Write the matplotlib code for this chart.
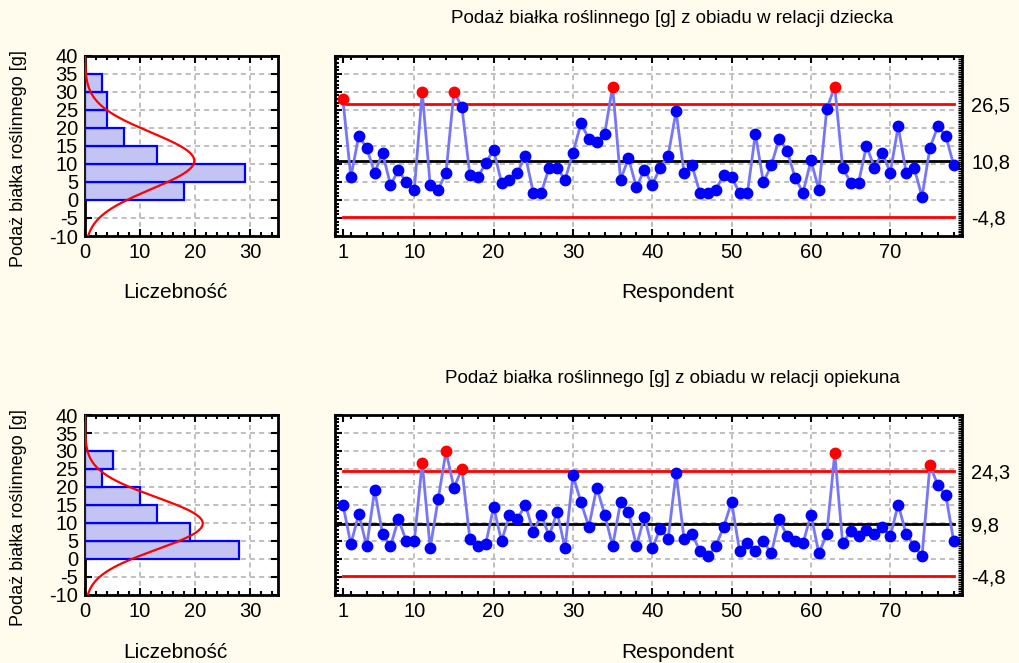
import numpy as np
import matplotlib
matplotlib.use("Agg")
import matplotlib.pyplot as plt
from matplotlib.ticker import MultipleLocator, FixedLocator, NullFormatter

plt.rcParams['font.family'] = ['Liberation Sans', 'DejaVu Sans']
plt.rcParams['axes.unicode_minus'] = False

# --- data ---
child = [27.9, 6.3, 17.8, 14.4, 7.6, 13.0, 4.2, 8.2, 4.9, 2.8,
         30.0, 4.2, 2.8, 7.6, 30.0, 25.8, 7.0, 6.3, 10.2, 13.9,
         4.8, 5.6, 7.6, 12.3, 2.0, 2.0, 9.0, 9.0, 5.6, 13.0,
         21.2, 17.0, 16.2, 18.4, 31.4, 5.6, 11.6, 3.5, 8.4, 4.2,
         9.0, 12.3, 24.6, 7.6, 9.6, 2.0, 2.0, 2.8, 7.0, 6.3,
         2.0, 2.0, 18.4, 4.9, 9.6, 17.0, 13.6, 6.2, 2.0, 11.0,
         2.8, 25.3, 31.4, 9.0, 4.8, 4.8, 15.0, 9.0, 13.0, 7.6,
         20.4, 7.6, 9.0, 0.9, 14.4, 20.4, 17.8, 9.6]
carer = [15.1, 4.1, 12.4, 3.5, 19.1, 6.9, 3.5, 11.0, 4.9, 4.9,
         26.7, 2.9, 16.5, 29.9, 19.7, 25.1, 5.6, 3.5, 4.1, 14.4,
         4.9, 12.3, 11.0, 15.1, 7.5, 12.3, 6.3, 13.1, 2.9, 23.2,
         15.8, 8.9, 19.8, 12.3, 3.5, 15.8, 13.1, 3.5, 11.7, 2.9,
         8.4, 5.6, 23.9, 5.6, 6.9, 2.2, 0.7, 3.5, 8.9, 15.8,
         2.2, 4.3, 2.2, 4.9, 1.5, 11.0, 6.3, 4.9, 4.3, 12.3,
         1.5, 6.9, 29.3, 4.3, 7.7, 6.3, 8.0, 6.9, 8.9, 6.3,
         15.1, 6.9, 3.6, 0.7, 26.0, 20.5, 17.7, 4.9]

bin_lo = [0, 5, 10, 15, 20, 25, 30]
child_counts = [18, 29, 13, 7, 4, 4, 3]
carer_counts = [28, 19, 13, 10, 3, 5, 0]

child_limits = (26.5, 10.8, -4.8)   # UCL, CL, LCL
carer_limits = (24.3, 9.8, -4.8)
child_labels = ['26,5', '10,8', '-4,8']
carer_labels = ['24,3', '9,8', '-4,8']

titles = ['Podaż białka roślinnego [g] z obiadu w relacji dziecka',
          'Podaż białka roślinnego [g] z obiadu w relacji opiekuna']

bg = '#fffcee'
grid_kw = dict(color='#b4b4b4', linestyle=(0, (3, 2.5)), linewidth=1.2)
TICK_FS = 14.5

fig = plt.figure(figsize=(10.2, 6.63), dpi=100, facecolor=bg)


def hist_panel(ax, counts, values):
    ax.set_facecolor('white')
    ax.barh(np.array(bin_lo) + 2.5, counts, height=5, color='#c4c4f4',
            edgecolor='#0000ff', linewidth=1.6, zorder=3)
    v = np.array(values)
    mu, sd = v.mean(), v.std(ddof=1)
    yy = np.linspace(-10, 40, 300)
    xx = len(v) * 5 / (sd * np.sqrt(2 * np.pi)) * np.exp(-0.5 * ((yy - mu) / sd) ** 2)
    ax.plot(xx, yy, color='#ff0000', lw=1.6, zorder=4)
    ax.set_xlim(0, 35)
    ax.set_ylim(-10, 40)
    ax.xaxis.set_major_locator(MultipleLocator(10))
    ax.xaxis.set_minor_locator(MultipleLocator(2))
    ax.yaxis.set_major_locator(MultipleLocator(5))
    ax.grid(True, **grid_kw, zorder=1)
    ax.set_axisbelow(True)
    ax.tick_params(which='both', direction='in', top=True, right=True,
                   labelsize=TICK_FS, width=1.5, pad=5)
    ax.tick_params(which='major', length=5)
    ax.tick_params(which='minor', length=3)
    for s in ax.spines.values():
        s.set_linewidth(2)
    ax.set_ylabel('Podaż białka roślinnego [g]', fontsize=13, va='center')
    ax.yaxis.set_label_coords(-0.345, 0.43)


def control_panel(ax, values, limits, labels):
    ax.set_facecolor('white')
    x = np.arange(1, len(values) + 1)
    v = np.array(values)
    ucl, cl, lcl = limits
    ax.plot(x, v, color='#7676f6', lw=2, zorder=3)
    out = v > ucl
    ax.plot(x[~out], v[~out], 'o', color='#0000ff', ms=7.5, zorder=4)
    ax.plot(x[out], v[out], 'o', color='#ff0000', ms=7.5, zorder=4)
    ax.plot([0, x[-1]], [cl, cl], color='black', lw=2, zorder=2)
    ax.plot([1, x[-1]], [ucl, ucl], color='#ff0000', lw=2, zorder=2)
    ax.plot([1, x[-1]], [lcl, lcl], color='#ff0000', lw=2, zorder=2)
    ax.set_xlim(0, 79)
    ax.set_ylim(-10, 40)
    ax.xaxis.set_major_locator(FixedLocator([1, 10, 20, 30, 40, 50, 60, 70]))
    ax.xaxis.set_minor_locator(MultipleLocator(2))
    ax.yaxis.set_major_locator(MultipleLocator(5))
    ax.yaxis.set_minor_locator(MultipleLocator(1))
    ax.yaxis.set_major_formatter(NullFormatter())
    for gx in range(10, 80, 10):
        ax.axvline(gx, **grid_kw, zorder=1)
    for gy in range(-5, 40, 5):
        ax.axhline(gy, **grid_kw, zorder=1)
    ax.tick_params(which='both', direction='in', top=True, right=True,
                   labelsize=TICK_FS, width=1.5, pad=5)
    ax.tick_params(which='major', length=5)
    ax.tick_params(which='minor', length=3)
    for s in ax.spines.values():
        s.set_linewidth(2)
    r = ax.twinx()
    r.set_ylim(-10, 40)
    r.set_yticks(list(limits))
    r.set_yticklabels(labels)
    r.yaxis.set_minor_locator(MultipleLocator(0.5))
    r.tick_params(which='major', direction='in', length=0, labelsize=TICK_FS, pad=7)
    r.tick_params(which='minor', direction='in', length=3, width=1)
    for s in r.spines.values():
        s.set_visible(False)


# panel geometry (figure fractions)
rows = [(0.644, 0.272), (0.103, 0.271)]
for i, (vals, counts, lims, labs) in enumerate([(child, child_counts, child_limits, child_labels),
                                                (carer, carer_counts, carer_limits, carer_labels)]):
    b, h = rows[i]
    hax = fig.add_axes([0.0833, b, 0.1892, h])
    hist_panel(hax, counts, vals)
    cax = fig.add_axes([0.3284, b, 0.6144, h])
    control_panel(cax, vals, lims, labs)
    top_px = 663 * (1 - (b + h))
    fig.text(672 / 1020, 1 - (top_px - 37) / 663, titles[i], ha='center',
             va='center', fontsize=13.5)
    fig.text(678 / 1020, 1 - (top_px + 237) / 663, 'Respondent', ha='center',
             va='center', fontsize=15)
    fig.text(175 / 1020, 1 - (top_px + 237) / 663, 'Liczebność', ha='center',
             va='center', fontsize=15)

fig.savefig('out.png', dpi=100, facecolor=bg)
